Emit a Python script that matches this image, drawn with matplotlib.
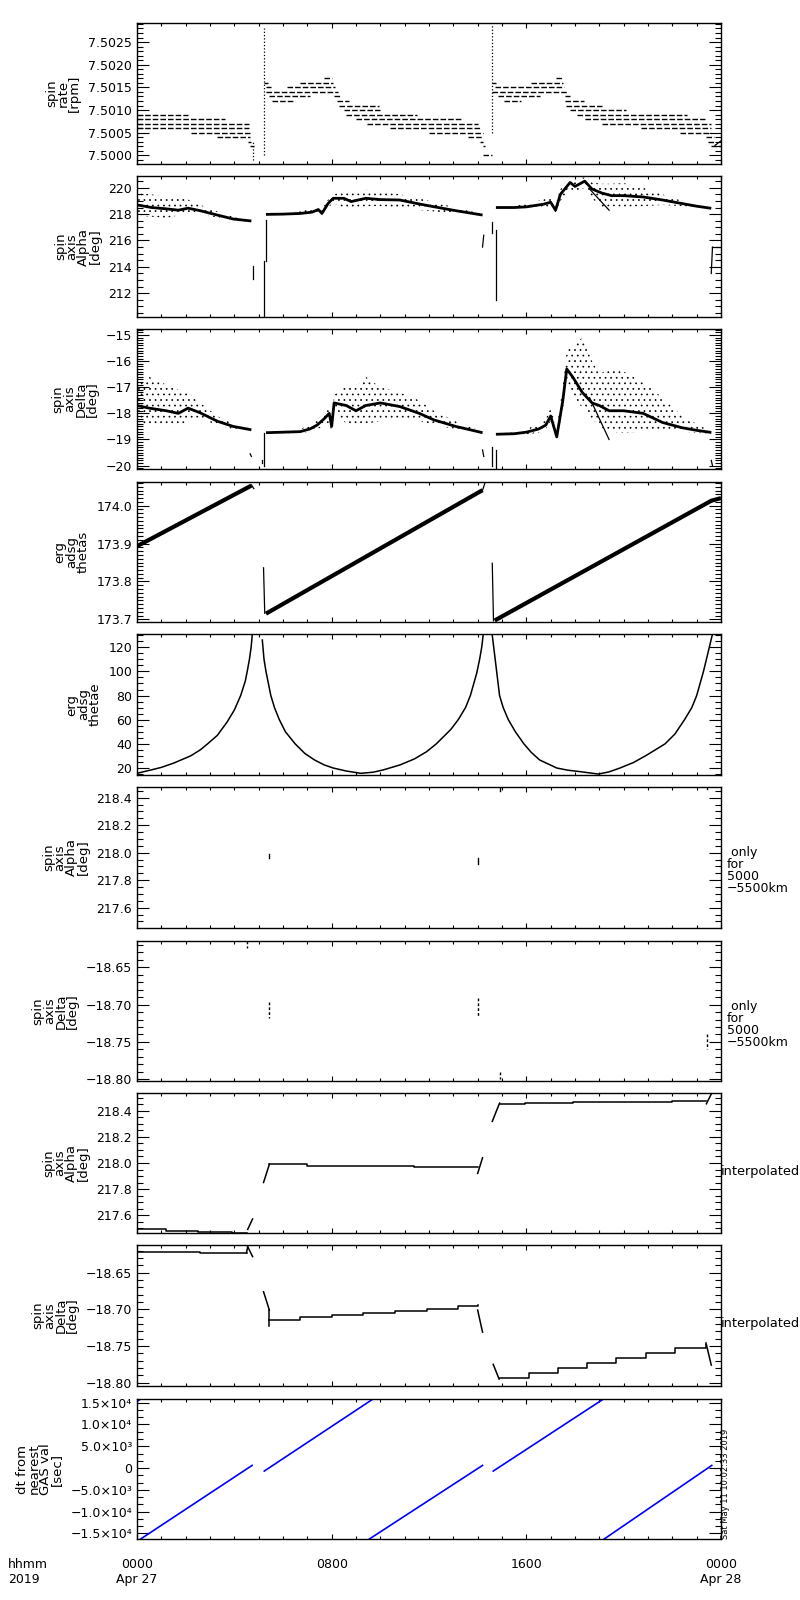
import matplotlib
matplotlib.use('Agg')
import matplotlib.pyplot as plt
from matplotlib.ticker import MultipleLocator, FixedLocator, FixedFormatter, FuncFormatter, NullFormatter

plt.rcParams['font.family'] = ['DejaVu Sans']
plt.rcParams['hatch.linewidth'] = 0.5

# pixel rows (top, bottom) of the 10 plot boxes, and x extent
PANEL_ROWS = [(23, 164), (176, 317), (329, 469), (482, 622), (634, 775),
              (787, 928), (941, 1081), (1093, 1233), (1245, 1386), (1399, 1539)]
X_LEFT, X_RIGHT = 137, 721
W, H = 800, 1600

HOUR_TICKS = [0, 8, 16, 24]
HOUR_LABELS = ['0000\nApr 27', '0800', '1600', '0000\nApr 28']

# ---------------- panel 1 : spin rate (quantised rows: level, start h, end h)
rate_level = [7.5009, 7.5008, 7.5007, 7.5006, 7.5005, 7.5004, 7.5003, 7.5002,
              7.5016, 7.5015, 7.5014, 7.5013, 7.5012, 7.5015, 7.5016, 7.5017,
              7.5013, 7.5012, 7.5011, 7.5010, 7.5009, 7.5008, 7.5007, 7.5006,
              7.5005, 7.5004, 7.5003, 7.5002, 7.5000,
              7.5016, 7.5015, 7.5014, 7.5013, 7.5012, 7.5016, 7.5017,
              7.5013, 7.5012, 7.5011, 7.5010, 7.5009, 7.5008, 7.5007, 7.5006,
              7.5005, 7.5004, 7.5003, 7.5002]
rate_start = [0.0, 0.0, 0.0, 0.0, 2.2, 3.3, 4.55, 4.65,
              5.2, 5.3, 5.29, 5.44, 5.53, 6.15, 6.7, 7.7,
              8.1, 8.2, 8.3, 8.5, 8.6, 9.0, 9.45, 10.4,
              12.0, 13.6, 14.1, 14.2, 14.2,
              14.6, 14.7, 14.6, 14.85, 15.1, 16.2, 17.2,
              17.6, 17.6, 17.65, 17.8, 18.07, 18.4, 19.1, 20.7,
              22.3, 23.4, 23.45, 23.6]
rate_end = [2.1, 3.6, 4.6, 4.6, 4.65, 4.65, 4.7, 4.8,
            5.4, 5.5, 8.27, 7.1, 6.5, 8.14, 8.07, 8.0,
            8.4, 8.7, 9.95, 10.0, 11.5, 13.4, 14.0, 14.1,
            14.2, 14.2, 14.2, 14.3, 14.6,
            14.75, 17.55, 17.7, 16.55, 15.8, 17.5, 17.5,
            17.8, 18.35, 19.1, 20.1, 22.6, 23.35, 23.6, 23.6,
            23.6, 23.7, 23.7, 24.0]
rate_jump_t = [4.75, 5.2, 14.6]
rate_jump_lo = [7.4999, 7.5000, 7.5005]
rate_jump_hi = [7.5003, 7.5028, 7.5029]

# ---------------- panel 2 : spin axis alpha (centre / lower / upper of the scatter)
alpha_t1 = [0, 0.6, 1.2, 1.7, 2.1, 2.6, 3.3, 3.95, 4.7]
alpha_c1 = [218.7, 218.5, 218.4, 218.3, 218.45, 218.26, 217.93, 217.63, 217.48]
alpha_u1 = [219.6, 219.5, 219.3, 219.2, 219.1, 218.7, 218.2, 217.8, 217.55]
alpha_l1 = [217.9, 217.8, 217.7, 217.9, 218.0, 217.95, 217.75, 217.5, 217.42]

alpha_t2 = [5.3, 6.0, 6.7, 7.2, 7.45, 7.6, 7.85, 8.06, 8.5, 8.8, 9.4, 10.0, 10.8, 11.6, 12.2, 13.1, 14.2]
alpha_c2 = [217.98, 218.0, 218.05, 218.15, 218.35, 218.05, 218.8, 219.2, 219.2, 218.95, 219.2, 219.1,
            219.07, 218.77, 218.56, 218.26, 217.93]
alpha_u2 = [218.02, 218.1, 218.2, 218.45, 218.6, 218.4, 219.1, 219.5, 219.7, 219.6, 219.85, 219.7,
            219.5, 219.2, 218.9, 218.5, 218.0]
alpha_l2 = [217.95, 217.95, 218.0, 218.0, 218.1, 217.9, 218.5, 218.8, 218.5, 218.3, 218.6, 218.6,
            218.5, 218.3, 218.2, 218.05, 217.88]

alpha_t3 = [14.75, 15.5, 16.0, 16.7, 17.0, 17.2, 17.4, 17.8, 18.0, 18.4, 18.7, 19.1, 19.5, 20.0,
            20.8, 21.6, 22.4, 23.0, 23.6]
alpha_c3 = [218.5, 218.5, 218.55, 218.75, 218.9, 218.3, 219.5, 220.4, 220.1, 220.5, 219.9, 219.6,
            219.4, 219.4, 219.3, 219.07, 218.8, 218.6, 218.44]
alpha_u3 = [218.55, 218.6, 218.8, 219.1, 219.3, 218.8, 219.9, 220.6, 220.6, 220.8, 220.4, 220.3,
            220.3, 220.35, 220.0, 219.5, 219.0, 218.7, 218.5]
alpha_l3 = [218.45, 218.4, 218.35, 218.45, 218.6, 218.1, 219.0, 219.9, 219.7, 220.0, 219.2, 218.5,
            218.6, 218.55, 218.6, 218.7, 218.6, 218.5, 218.4]

# short streaks: x0, x1, y0, y1
alpha_streaks = [(4.75, 4.75, 213.1, 214.1), (5.2, 5.2, 210.2, 214.45), (5.3, 5.3, 214.45, 217.55),
                 (14.2, 14.25, 215.5, 216.4), (14.6, 14.6, 216.6, 217.4), (14.75, 14.75, 211.5, 216.8),
                 (23.6, 23.65, 213.5, 215.5), (23.65, 24.0, 215.5, 215.5), (18.6, 19.4, 219.9, 218.3)]

# ---------------- panel 3 : spin axis delta
delta_t1 = [0, 0.5, 1.2, 1.7, 2.1, 2.6, 3.3, 3.95, 4.7]
delta_c1 = [-17.7, -17.8, -17.9, -18.0, -17.8, -17.98, -18.3, -18.5, -18.63]
delta_u1 = [-16.9, -16.6, -16.9, -17.1, -17.2, -17.6, -18.1, -18.4, -18.6]
delta_l1 = [-18.3, -18.5, -18.5, -18.5, -18.3, -18.2, -18.45, -18.6, -18.68]

delta_t2 = [5.3, 6.0, 6.7, 7.1, 7.4, 7.7, 7.9, 8.0, 8.1, 8.6, 9.0, 9.4, 10.0, 10.8, 11.6, 12.2, 13.1, 14.2]
delta_c2 = [-18.74, -18.72, -18.7, -18.6, -18.45, -18.2, -18.0, -18.5, -17.6, -17.7, -17.9, -17.7,
            -17.6, -17.74, -18.0, -18.25, -18.5, -18.74]
delta_u2 = [-18.72, -18.68, -18.6, -18.45, -18.25, -18.0, -17.8, -18.2, -17.3, -16.9, -17.0, -16.6,
            -17.0, -17.2, -17.5, -17.9, -18.3, -18.7]
delta_l2 = [-18.76, -18.76, -18.75, -18.72, -18.6, -18.5, -18.35, -18.75, -17.9, -18.4, -18.5, -18.4,
            -18.3, -18.2, -18.3, -18.45, -18.6, -18.78]

delta_t3 = [14.75, 15.5, 16.0, 16.5, 16.8, 17.0, 17.25, 17.5, 17.66, 17.9, 18.3, 18.7, 19.0, 19.4,
            20.0, 20.8, 21.6, 22.4, 23.0, 23.6]
delta_c3 = [-18.8, -18.78, -18.72, -18.6, -18.45, -18.1, -18.9, -17.5, -16.3, -16.6, -17.2, -17.6,
            -17.7, -17.9, -17.9, -18.0, -18.35, -18.55, -18.65, -18.73]
delta_u3 = [-18.77, -18.72, -18.6, -18.4, -18.2, -17.8, -18.6, -16.9, -15.6, -15.4, -15.1, -16.0,
            -16.5, -16.3, -16.4, -16.8, -17.4, -18.1, -18.4, -18.7]
delta_l3 = [-18.82, -18.8, -18.8, -18.75, -18.6, -18.3, -18.97, -17.9, -16.7, -17.3, -17.8, -18.2,
            -18.5, -18.7, -18.75, -18.7, -18.6, -18.7, -18.75, -18.77]

delta_streaks = [(4.65, 4.7, -19.55, -19.65), (5.15, 5.15, -19.8, -19.9), (5.22, 5.22, -18.75, -20.0),
                 (14.2, 14.25, -19.4, -19.65), (14.6, 14.6, -19.27, -20.03), (14.75, 14.75, -19.4, -20.1),
                 (23.6, 23.65, -19.8, -20.0), (18.6, 19.4, -17.4, -19.0)]

# ---------------- panel 4 : erg adsg thetas (saw-tooth runs + drops)
thetas_t = [[0.0, 4.7], [5.3, 14.2], [14.7, 23.6, 24.0]]
thetas_v = [[173.893, 174.053], [173.715, 174.041], [173.697, 174.013, 174.02]]
thetas_drops = [(4.7, 4.8, 174.055, 174.045), (5.2, 5.25, 173.836, 173.716), (14.2, 14.3, 174.041, 174.06),
                (14.6, 14.65, 173.848, 173.696)]

# ---------------- panel 5 : erg adsg thetae
thetae_t = [[0, 0.5, 1.0, 1.5, 2.2, 2.6, 2.9, 3.3, 3.7, 4.0, 4.26, 4.45, 4.53, 4.62, 4.69, 4.74],
            [5.15, 5.22, 5.3, 5.4, 5.5, 5.65, 5.85, 6.1, 6.5, 6.9, 7.3, 7.7, 8.06, 8.6, 9.2, 9.7, 10.1,
             10.8, 11.4, 11.9, 12.3, 12.9, 13.2, 13.5, 13.7, 13.96, 14.08, 14.17, 14.23],
            [14.6, 14.66, 14.78, 14.9, 15.05, 15.26, 15.55, 15.9, 16.2, 16.55, 17.25, 17.7, 18.2, 18.96,
             19.4, 19.85, 20.4, 20.95, 21.7, 22.1, 22.5, 22.8, 23.0, 23.28, 23.4, 23.52, 23.65, 24.0]]
thetae_v = [[15.6, 18.0, 20.5, 24.0, 30.0, 35.0, 40.0, 47.0, 58.0, 68.0, 80.0, 92.0, 100.0, 110.0, 120.0, 131.0],
            [126, 110, 100, 90, 80, 70, 60, 50, 40, 32, 26.6, 22.5, 20, 17.5, 15.6, 16.5, 18.3,
             22.5, 27.5, 33.5, 40, 52, 60, 70, 80, 98.5, 110, 120.5, 131],
            [130, 120, 100, 80, 70, 60, 50, 40, 33, 26.6, 20, 18.2, 17, 15,
             16.8, 20, 24.5, 30.7, 40, 48, 60, 70, 80, 100, 110, 120, 131, 131]]

# ---------------- panels 6 / 7 : only 5000-5500 km (x, y0, y1)
alpha_only = [(5.44, 217.96, 217.99), (14.0, 217.92, 217.96), (14.9, 218.45, 218.478), (23.43, 218.46, 218.478)]
delta_only = [(4.53, -18.615, -18.624), (5.44, -18.696, -18.718), (14.0, -18.691, -18.716),
              (14.9, -18.79, -18.80), (23.44, -18.74, -18.76)]

# ---------------- panels 8 / 9 : interpolated (step runs + short joins)
alpha_i_t = [[0, 1.2, 2.5, 3.9, 4.5], [5.44, 7.0, 11.4, 14.0],
             [14.9, 15.95, 17.9, 19.96, 21.98, 23.4]]
alpha_i_v = [[217.49, 217.48, 217.47, 217.465, 217.465], [217.99, 217.98, 217.97, 217.97],
             [218.455, 218.46, 218.465, 218.47, 218.475, 218.48]]
alpha_i_joins = [(4.55, 4.75, 217.49, 217.57), (5.2, 5.44, 217.85, 217.99), (14.0, 14.2, 217.92, 218.04),
                 (14.6, 14.9, 218.32, 218.46), (23.4, 23.6, 218.455, 218.53)]

delta_i_t = [[0, 2.6, 4.5], [5.44, 6.7, 8.0, 9.3, 10.6, 11.9, 13.2, 14.0],
             [14.88, 16.1, 17.3, 18.5, 19.7, 20.9, 22.1, 23.4]]
delta_i_v = [[-18.6214, -18.6227, -18.6227],
             [-18.714, -18.711, -18.708, -18.705, -18.702, -18.699, -18.696, -18.694],
             [-18.794, -18.787, -18.780, -18.773, -18.766, -18.759, -18.752, -18.746]]
delta_i_joins = [(4.5, 4.55, -18.6227, -18.6145), (4.55, 4.75, -18.6145, -18.628), (5.2, 5.44, -18.676, -18.701),
                 (5.44, 5.44, -18.701, -18.722), (14.0, 14.2, -18.701, -18.731), (14.64, 14.88, -18.775, -18.795),
                 (23.4, 23.6, -18.748, -18.776)]

# ---------------- panel 10 : dt from nearest GAS value [s]  (x0, x1, y0, y1)
dt_segments = [(0.0, 0.15, 15300, 15850), (0.15, 4.73, -16300, 600), (5.23, 9.7, -700, 15850),
               (9.55, 14.2, -16300, 600), (14.64, 19.17, -700, 15850), (19.2, 23.62, -16300, 600)]
dt_ticks = [-15000, -10000, -5000, 0, 5000, 10000, 15000]
dt_labels = ['\u22121.5\u00d710\u2074', '\u22121.0\u00d710\u2074', '\u22125.0\u00d710\u00b3', '0',
             '5.0\u00d710\u00b3', '1.0\u00d710\u2074', '1.5\u00d710\u2074']


def make_axes(fig, row):
    top, bot = row
    ax = fig.add_axes([X_LEFT / W, 1 - bot / H, (X_RIGHT - X_LEFT) / W, (bot - top) / H])
    ax.set_xlim(0, 24)
    ax.xaxis.set_major_locator(FixedLocator(HOUR_TICKS))
    ax.xaxis.set_minor_locator(MultipleLocator(1))
    ax.xaxis.set_major_formatter(NullFormatter())
    ax.tick_params(axis='both', which='both', direction='in', top=True, right=True,
                   labelsize=9, width=0.8, colors='k')
    ax.tick_params(axis='y', which='major', length=8.5, pad=3.5)
    ax.tick_params(axis='y', which='minor', length=4.3)
    ax.tick_params(axis='x', which='major', length=3.8)
    ax.tick_params(axis='x', which='minor', length=2.2)
    for s in ax.spines.values():
        s.set_linewidth(1.0)
    return ax


def yaxis(ax, lo, hi, major, minor, fmt, label):
    ax.set_ylim(lo, hi)
    ax.yaxis.set_major_locator(MultipleLocator(major))
    ax.yaxis.set_minor_locator(MultipleLocator(minor))
    ax.yaxis.set_major_formatter(FuncFormatter(lambda v, p: (fmt % v).replace('-', '\u2212')))
    ax.set_ylabel(label, fontsize=9.5, linespacing=0.85, labelpad=5, multialignment='center')


def band(ax, t, c, lo, up):
    ax.fill_between(t, lo, up, facecolor='none', edgecolor='k', hatch='...', linewidth=0)
    ax.plot(t, c, color='k', lw=2.0, solid_capstyle='butt')


def streaks(ax, segs, ls='-', lw=0.9, color='k'):
    for x0, x1, y0, y1 in segs:
        ax.plot([x0, x1], [y0, y1], color=color, lw=lw, ls=ls)


fig = plt.figure(figsize=(8, 16), dpi=100)
axs = [make_axes(fig, r) for r in PANEL_ROWS]

# 1 spin rate
ax = axs[0]
ax.hlines(rate_level, rate_start, rate_end, colors='k', linewidth=1.0, linestyles=[(0, (4, 1.5))])
ax.vlines(rate_jump_t, rate_jump_lo, rate_jump_hi, colors='k', linewidth=0.9, linestyles=':')
ax.plot([23.75, 24.0], [7.50022, 7.50032], color='k', lw=0.9)
yaxis(ax, 7.49981, 7.50292, 0.0005, 0.0001, '%.4f', 'spin\nrate\n[rpm]')

# 2 alpha
ax = axs[1]
band(ax, alpha_t1, alpha_c1, alpha_l1, alpha_u1)
band(ax, alpha_t2, alpha_c2, alpha_l2, alpha_u2)
band(ax, alpha_t3, alpha_c3, alpha_l3, alpha_u3)
streaks(ax, alpha_streaks)
yaxis(ax, 210.2, 220.89, 2, 0.5, '%d', 'spin\naxis\nAlpha\n[deg]')

# 3 delta
ax = axs[2]
band(ax, delta_t1, delta_c1, delta_l1, delta_u1)
band(ax, delta_t2, delta_c2, delta_l2, delta_u2)
band(ax, delta_t3, delta_c3, delta_l3, delta_u3)
streaks(ax, delta_streaks)
yaxis(ax, -20.13, -14.77, 1, 0.1, '%d', 'spin\naxis\nDelta\n[deg]')

# 4 thetas
ax = axs[3]
for t, v in zip(thetas_t, thetas_v):
    ax.plot(t, v, color='k', lw=3.0, solid_capstyle='butt')
streaks(ax, thetas_drops)
yaxis(ax, 173.693, 174.0625, 0.1, 0.01, '%.1f', 'erg\nadsg\nthetas')

# 5 thetae
ax = axs[4]
for t, v in zip(thetae_t, thetae_v):
    ax.plot(t, v, color='k', lw=1.1)
yaxis(ax, 14.2, 131, 20, 5, '%d', 'erg\nadsg\nthetae')

# 6 alpha only 5000-5500 km
ax = axs[5]
for x, y0, y1 in alpha_only:
    ax.plot([x, x], [y0, y1], color='k', lw=1.0)
yaxis(ax, 217.452, 218.478, 0.2, 0.05, '%.1f', 'spin\naxis\nAlpha\n[deg]')

# 7 delta only 5000-5500 km
ax = axs[6]
for x, y0, y1 in delta_only:
    ax.plot([x, x], [y0, y1], color='k', lw=1.0, ls=(0, (2, 1.5)))
yaxis(ax, -18.8023, -18.6148, 0.05, 0.01, '%.2f', 'spin\naxis\nDelta\n[deg]')

# 8 alpha interpolated
ax = axs[7]
for t, v in zip(alpha_i_t, alpha_i_v):
    ax.plot(t, v, color='k', lw=1.1, drawstyle='steps-post')
streaks(ax, alpha_i_joins, lw=1.1)
yaxis(ax, 217.462, 218.538, 0.2, 0.05, '%.1f', 'spin\naxis\nAlpha\n[deg]')

# 9 delta interpolated
ax = axs[8]
for t, v in zip(delta_i_t, delta_i_v):
    ax.plot(t, v, color='k', lw=1.1, drawstyle='steps-post')
streaks(ax, delta_i_joins, lw=1.1)
yaxis(ax, -18.8045, -18.6122, 0.05, 0.01, '%.2f', 'spin\naxis\nDelta\n[deg]')

# 10 dt from nearest GAS value
ax = axs[9]
streaks(ax, dt_segments, lw=1.2, color='#0000ff')
ax.set_ylim(-16300, 15850)
ax.yaxis.set_major_locator(FixedLocator(dt_ticks))
ax.yaxis.set_major_formatter(FixedFormatter(dt_labels))
ax.yaxis.set_minor_locator(MultipleLocator(5000 / 3))
ax.set_ylabel('dt from\nnearest\nGAS val\n[sec]', fontsize=9.5, linespacing=0.85, labelpad=5,
              multialignment='center')

# right-hand notes
for i in (5, 6):
    axs[i].text(1.01, 0.58, ' only\nfor\n5000\n\u22125500km', transform=axs[i].transAxes,
                ha='left', va='top', fontsize=9, linespacing=0.9)
for i in (7, 8):
    axs[i].text(1.0, 0.44, 'interpolated', transform=axs[i].transAxes,
                ha='left', va='center', fontsize=9.3)
fig.text(726 / W, 1 - 1539 / H, 'Sat May 11 10:02:33 2019', rotation=90, ha='center', va='bottom',
         fontsize=6)

# bottom time labels
for h, lab in zip(HOUR_TICKS, HOUR_LABELS):
    x = (X_LEFT + (X_RIGHT - X_LEFT) * h / 24) / W
    fig.text(x, 1 - 1558 / H, lab, ha='center', va='top', fontsize=9, linespacing=1.2)
fig.text(8 / W, 1 - 1558 / H, 'hhmm\n2019', ha='left', va='top', fontsize=9, linespacing=1.2)

fig.savefig('out.png', dpi=100)
